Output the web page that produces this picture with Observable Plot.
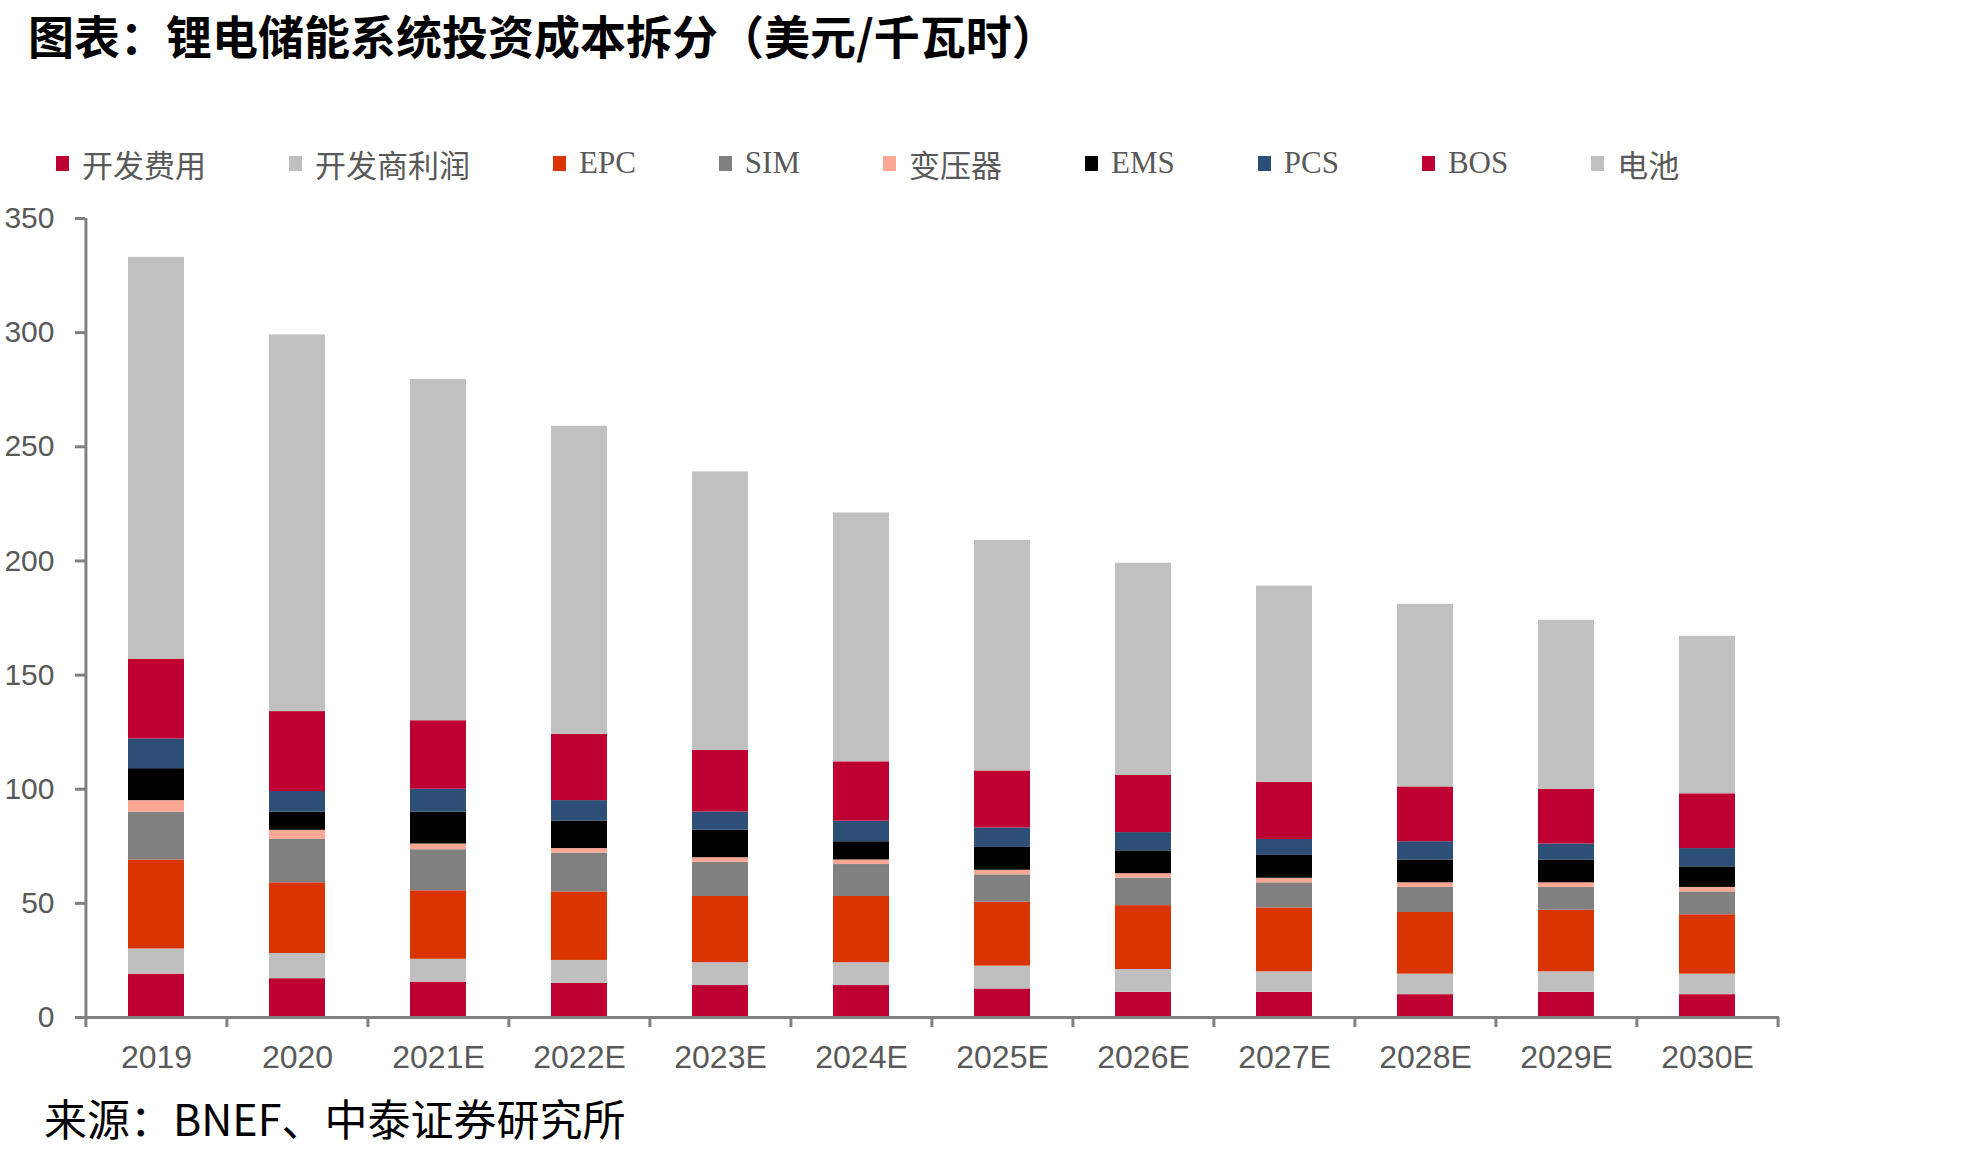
<!DOCTYPE html>
<html>
<head>
<meta charset="utf-8">
<script src="https://cdn.jsdelivr.net/npm/d3@7"></script>
<script src="https://cdn.jsdelivr.net/npm/@observablehq/plot@0.6"></script>
<style>
  html, body { margin: 0; padding: 0; background: #fff; }
  body { width: 1969px; height: 1153px; position: relative; overflow: hidden; }
  #title { position: absolute; left: 28px; top: 1px; font-family: "Noto Sans CJK SC", sans-serif; font-weight: 700; font-size: 46px; color: #000; white-space: nowrap; }
  #legend { position: absolute; left: 56px; top: 145px; height: 36px; display: flex; align-items: center; font-family: "Liberation Serif", "Noto Sans CJK SC", serif; font-size: 31px; color: #595959; white-space: nowrap; }
  .item { display: flex; align-items: center; margin-right: 83px; }
  .sw { width: 13px; height: 15px; margin-right: 13px; }
  #chart { position: absolute; left: 0; top: 190px; }
  #caption { position: absolute; left: 44px; top: 1086px; font-family: "Noto Sans CJK SC", sans-serif; font-size: 43px; color: #000; white-space: nowrap; }
</style>
</head>
<body>
<div id="title">图表：锂电储能系统投资成本拆分（美元/千瓦时）</div>
<div id="legend"></div>
<div id="chart"></div>
<div id="caption">来源：BNEF、中泰证券研究所</div>
<script>
const categories = ["2019","2020","2021E","2022E","2023E","2024E","2025E","2026E","2027E","2028E","2029E","2030E"];
const seriesNames = ["开发费用","开发商利润","EPC","SIM","变压器","EMS","PCS","BOS","电池"];
const seriesColors = ["#BE0032","#BFBFBF","#DA3400","#808080","#FBA794","#000000","#2D4F77","#BE0032","#C0C0C0"];
const yTicks = [0,50,100,150,200,250,300,350];

const devCost     = [19,17,15.5,15,14,14,12.5,11,11,10,11,10];
const devProfit   = [11,11,10,10,10,10,10,10,9,9,9,9];
const epc         = [39,31,30,30,29,29,28,28,28,27,27,26];
const sim         = [21,19,18,17,15,14,12,12,11,11,10,10];
const transformer = [5,4,2.5,2,2,2,2,2,2,2,2,2];
const ems         = [14,8,14,12,12,8,10,10,10,10,10,9];
const pcs         = [13,9,10,9,8,9,8.5,8,7,8,7,8];
const bos         = [35,35,30,29,27,26,25,25,25,24,24,24];
const battery     = [176,165,149.5,135,122,109,101,93,86,80,74,69];

const seriesValues = [devCost, devProfit, epc, sim, transformer, ems, pcs, bos, battery];

const rows = [];
categories.forEach((c, i) => {
  seriesNames.forEach((s, k) => rows.push({year: c, series: s, value: seriesValues[k][i]}));
});

// legend
const legend = document.getElementById("legend");
seriesNames.forEach((s, k) => {
  const it = document.createElement("div");
  it.className = "item";
  const sw = document.createElement("span");
  sw.className = "sw";
  sw.style.background = seriesColors[k];
  const tx = document.createElement("span");
  tx.textContent = s;
  it.appendChild(sw); it.appendChild(tx);
  legend.appendChild(it);
});

const W = 1969, H = 895, mL = 85, mR = 190, mT = 28, mB = 68;
const pInner = 0.6, pOuter = 0.3;
const step = (W - mL - mR) / (categories.length - pInner + 2 * pOuter);
const axisGray = "#808080";

const chart = Plot.plot({
  width: W, height: H,
  marginLeft: mL, marginRight: mR, marginTop: mT, marginBottom: mB,
  style: {fontFamily: "Liberation Sans, Arial, sans-serif", color: "#595959", background: "#fff"},
  x: {type: "band", domain: categories, paddingInner: pInner, paddingOuter: pOuter, label: null},
  y: {domain: [0, d3.max(yTicks)], label: null},
  color: {domain: seriesNames, range: seriesColors},
  marks: [
    Plot.barY(rows, {x: "year", y: "value", fill: (d) => seriesColors[seriesNames.indexOf(d.series)]}),
    Plot.ruleY([0], {stroke: axisGray, strokeWidth: 3}),
    Plot.ruleX([categories[0]], {x: d => d, dx: -step / 2, y1: 0, y2: d3.max(yTicks), stroke: axisGray, strokeWidth: 3}),
    Plot.ruleX(categories, {x: d => d, dx: -step / 2, y1: 0, y2: 0, insetBottom: -10, stroke: axisGray, strokeWidth: 3}),
    Plot.ruleX([categories[categories.length - 1]], {x: d => d, dx: step / 2, y1: 0, y2: 0, insetBottom: -10, stroke: axisGray, strokeWidth: 3}),
    Plot.axisY({ticks: yTicks, tickSize: 10, tickPadding: 21, fontSize: 30, stroke: axisGray, strokeWidth: 3, fill: "#595959", label: null}),
    Plot.axisX({tickSize: 0, tickPadding: 28, fontSize: 32, fill: "#595959", label: null})
  ]
});
document.getElementById("chart").appendChild(chart);
</script>
</body>
</html>
